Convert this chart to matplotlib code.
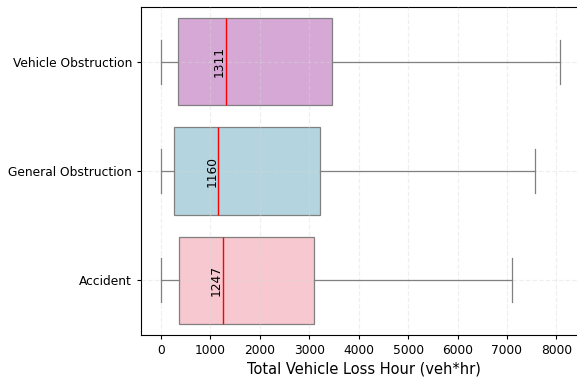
import colorsys
import matplotlib
matplotlib.use("Agg")
import matplotlib.pyplot as plt
import matplotlib.colors as mcolors

categories = ["Accident", "General Obstruction", "Vehicle Obstruction"]
whisker_low = [0, 0, 0]
q1 = [371, 257, 351]
median = [1247, 1160, 1311]
q3 = [3097, 3225, 3462]
whisker_high = [7100, 7560, 8080]
base_colors = ["pink", "lightblue", "plum"]


def desaturate(c, prop=0.75):
    r, g, b = mcolors.to_rgb(c)
    h, l, s = colorsys.rgb_to_hls(r, g, b)
    return colorsys.hls_to_rgb(h, l, s * prop)


stats = []
for i, name in enumerate(categories):
    stats.append(dict(label=name, whislo=whisker_low[i], q1=q1[i], med=median[i],
                      q3=q3[i], whishi=whisker_high[i], fliers=[]))

fig = plt.figure(figsize=(5.77, 3.78), dpi=100)
ax = fig.add_axes([141 / 577, 43 / 378, 446 / 577, 328 / 378])

bp = ax.bxp(stats, positions=range(len(categories)), widths=0.8, vert=False,
            patch_artist=True, showfliers=False,
            boxprops=dict(edgecolor="#808080", linewidth=0.9),
            whiskerprops=dict(color="#808080", linewidth=0.9, zorder=3),
            capprops=dict(color="#808080", linewidth=0.9, zorder=3),
            medianprops=dict(color="red", linewidth=1.0, zorder=3))
for patch, c in zip(bp["boxes"], base_colors):
    patch.set_facecolor(desaturate(c))

for i, m in enumerate(median):
    ax.text(m, i, f"{m}", rotation=90, ha="right", va="center", fontsize=8.8,
            color="black", zorder=4)

ax.set_ylim(-0.5, len(categories) - 0.5)
ax.set_yticks(range(len(categories)))
ax.set_yticklabels(categories)
ax.set_xlim(-406, 8620)
ax.set_xticks(range(0, 9000, 1000))
ax.tick_params(labelsize=8.8, width=0.8, length=3)
ax.set_xlabel("Total Vehicle Loss Hour (veh*hr)", fontsize=10.5, labelpad=3)
ax.set_axisbelow(False)
ax.grid(True, color="#d8d8d8", linestyle="--", linewidth=0.9, alpha=0.4)
for s in ax.spines.values():
    s.set_linewidth(0.8)

fig.savefig("out.png", dpi=100)
